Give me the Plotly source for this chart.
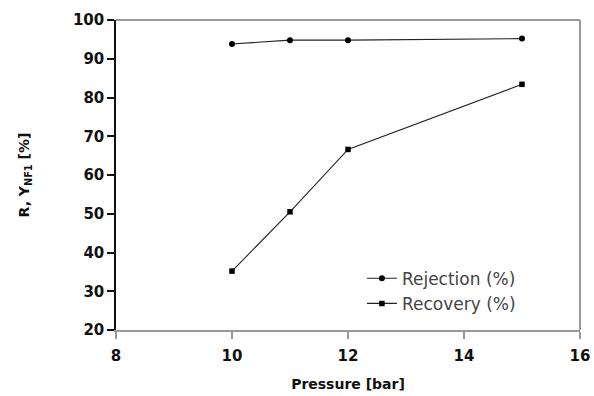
import plotly.graph_objects as go

pressure = [10, 11, 12, 15]
rejection = [93.8, 94.8, 94.8, 95.2]
recovery = [35.2, 50.5, 66.6, 83.4]

FONT = "DejaVu Sans, Arial, sans-serif"

fig = go.Figure()
fig.add_trace(go.Scatter(x=pressure, y=rejection, mode="lines+markers", name="Rejection (%)",
                         legendgroup="a",
                         line=dict(color="#222", width=1.1),
                         marker=dict(symbol="circle", size=6, color="black")))
fig.add_trace(go.Scatter(x=pressure, y=recovery, mode="lines+markers", name="Recovery (%)",
                         legendgroup="b",
                         line=dict(color="#222", width=1.1),
                         marker=dict(symbol="square", size=5.5, color="black")))

fig.update_layout(
    width=594, height=396,
    margin=dict(l=116, r=14, t=20, b=66, autoexpand=False),
    plot_bgcolor="white", paper_bgcolor="white",
    font=dict(family=FONT, color="#111"),
    showlegend=True,
    legend=dict(x=0.53, y=0.125, xanchor="left", yanchor="middle",
                font=dict(size=17, color="#444", family=FONT), bgcolor="rgba(0,0,0,0)",
                itemwidth=30, tracegroupgap=0),
)
fig.update_xaxes(range=[8, 16], dtick=2, showgrid=False, zeroline=False, automargin=False,
                 showline=True, linecolor="#999", linewidth=2,
                 ticks="outside", ticklen=7, tickcolor="#999", tickwidth=1.5,
                 ticklabelstandoff=4,
                 tickfont=dict(size=15, family=FONT, weight="bold", color="#111"),
                 title=dict(text="<b>Pressure [bar]</b>", font=dict(size=14, family=FONT), standoff=15))
fig.update_yaxes(range=[20, 100], dtick=10, showgrid=False, zeroline=False, automargin=False,
                 showline=True, linecolor="#111", linewidth=1.5,
                 ticks="outside", ticklen=7, tickcolor="#111", tickwidth=1.5,
                 tickfont=dict(size=15, family=FONT, weight="bold", color="#111"),
                 title=dict(text="<b>R, Y<sub>NF1</sub> [%]</b>", font=dict(size=14, family=FONT), standoff=40))
# gray top/right frame
fig.add_shape(type="line", xref="paper", yref="paper", x0=0, x1=1, y0=1, y1=1,
              line=dict(color="#999", width=2))
fig.add_shape(type="line", xref="paper", yref="paper", x0=1, x1=1, y0=0, y1=1,
              line=dict(color="#999", width=2))

fig.write_html("out.html", config={"displayModeBar": False},
               post_script="document.body.style.margin='0';document.body.style.overflow='hidden';")
